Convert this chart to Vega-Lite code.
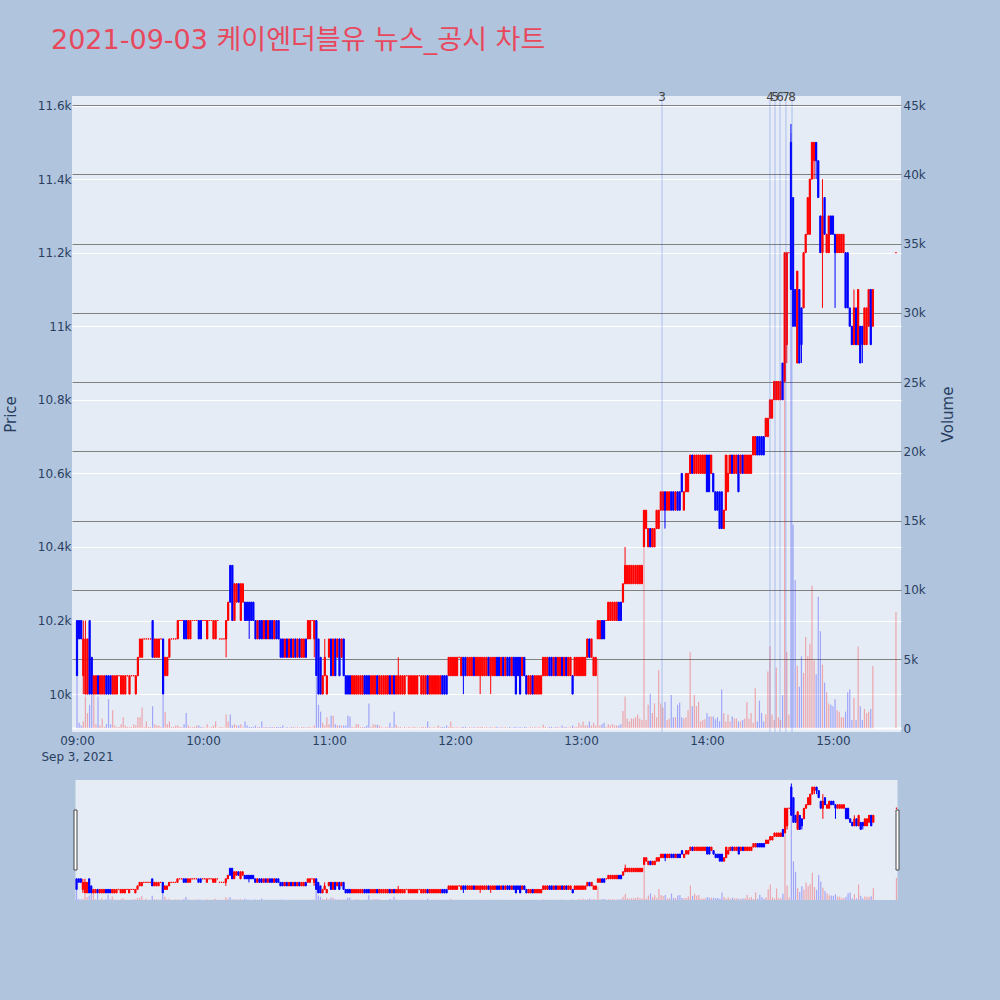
{
"$schema":"https://vega.github.io/schema/vega-lite/v6.json",
"background":"#b0c4de",
"padding":{"left":3,"top":27,"right":50,"bottom":132},
"title":{"text":"2021-09-03 케이엔더블유 뉴스_공시 차트","anchor":"start","frame":"bounds","font":"DejaVu Sans, Noto Sans CJK KR","fontSize":27,"fontWeight":"normal","color":"#e8485c","offset":36,"dx":48},
"config":{"view":{"fill":"#e5ecf6","stroke":null},"font":"DejaVu Sans"},
"data":{"name":"candles","format":{"parse":{"t":"utc:'%H:%M'"}}},
"datasets":{
"news":[{"t":"13:38:36","n":"3"},{"t":"14:30:00","n":"4"},{"t":"14:32:24","n":"5"},{"t":"14:34:48","n":"6"},{"t":"14:37:36","n":"7"},{"t":"14:40:30","n":"8"}],
"handles":[{"t":"08:59:30"},{"t":"15:30:30"}],
"candles":[
{"t":"09:00","o":10200,"h":10200,"l":10050,"c":10050,"v":3800},
{"t":"09:01","o":10200,"h":10200,"l":10150,"c":10150,"v":400},
{"t":"09:02","o":10200,"h":10200,"l":10150,"c":10150,"v":200},
{"t":"09:03","o":10050,"h":10200,"l":10000,"c":10150,"v":500},
{"t":"09:04","o":10000,"h":10200,"l":10000,"c":10150,"v":2300},
{"t":"09:05","o":10000,"h":10150,"l":10000,"c":10150,"v":1100},
{"t":"09:06","o":10200,"h":10200,"l":10000,"c":10000,"v":1700},
{"t":"09:07","o":10100,"h":10100,"l":10000,"c":10000,"v":2400},
{"t":"09:08","o":10000,"h":10050,"l":10000,"c":10050,"v":3500},
{"t":"09:09","o":10000,"h":10050,"l":10000,"c":10050,"v":300},
{"t":"09:10","o":10050,"h":10050,"l":10000,"c":10000,"v":2300},
{"t":"09:11","o":10000,"h":10050,"l":10000,"c":10050,"v":200},
{"t":"09:12","o":10000,"h":10050,"l":10000,"c":10050,"v":700},
{"t":"09:13","o":10000,"h":10050,"l":10000,"c":10050,"v":100},
{"t":"09:14","o":10050,"h":10050,"l":10000,"c":10000,"v":300},
{"t":"09:15","o":10050,"h":10050,"l":10000,"c":10000,"v":2100},
{"t":"09:16","o":10050,"h":10050,"l":10000,"c":10000,"v":300},
{"t":"09:17","o":10000,"h":10050,"l":10000,"c":10050,"v":1300},
{"t":"09:18","o":10000,"h":10050,"l":10000,"c":10050,"v":200},
{"t":"09:19","o":10000,"h":10050,"l":10000,"c":10050,"v":100},
{"t":"09:20","o":10050,"h":10050,"l":10050,"c":10050,"v":100},
{"t":"09:21","o":10000,"h":10050,"l":10000,"c":10050,"v":300},
{"t":"09:22","o":10000,"h":10050,"l":10000,"c":10050,"v":800},
{"t":"09:23","o":10000,"h":10050,"l":10000,"c":10050,"v":200},
{"t":"09:24","o":10050,"h":10050,"l":10050,"c":10050,"v":100},
{"t":"09:25","o":10000,"h":10050,"l":10000,"c":10050,"v":100},
{"t":"09:26","o":10050,"h":10050,"l":10050,"c":10050,"v":100},
{"t":"09:27","o":10050,"h":10050,"l":10050,"c":10050,"v":300},
{"t":"09:28","o":10000,"h":10050,"l":10000,"c":10050,"v":200},
{"t":"09:29","o":10050,"h":10100,"l":10050,"c":10100,"v":800},
{"t":"09:30","o":10100,"h":10150,"l":10100,"c":10150,"v":800},
{"t":"09:31","o":10100,"h":10150,"l":10100,"c":10150,"v":1500},
{"t":"09:32","o":10150,"h":10150,"l":10150,"c":10150,"v":100},
{"t":"09:33","o":10150,"h":10150,"l":10150,"c":10150,"v":500},
{"t":"09:34","o":10150,"h":10150,"l":10150,"c":10150,"v":100},
{"t":"09:35","o":10150,"h":10150,"l":10150,"c":10150,"v":100},
{"t":"09:36","o":10200,"h":10200,"l":10100,"c":10100,"v":1600},
{"t":"09:37","o":10100,"h":10150,"l":10100,"c":10150,"v":300},
{"t":"09:38","o":10100,"h":10150,"l":10100,"c":10150,"v":200},
{"t":"09:39","o":10100,"h":10150,"l":10100,"c":10150,"v":200},
{"t":"09:40","o":10150,"h":10150,"l":10150,"c":10150,"v":100},
{"t":"09:41","o":10150,"h":10150,"l":10000,"c":10000,"v":2400},
{"t":"09:42","o":10050,"h":10100,"l":10050,"c":10100,"v":1200},
{"t":"09:43","o":10050,"h":10100,"l":10050,"c":10100,"v":300},
{"t":"09:44","o":10100,"h":10150,"l":10100,"c":10150,"v":500},
{"t":"09:45","o":10150,"h":10150,"l":10150,"c":10150,"v":100},
{"t":"09:46","o":10150,"h":10150,"l":10150,"c":10150,"v":100},
{"t":"09:47","o":10150,"h":10150,"l":10150,"c":10150,"v":200},
{"t":"09:48","o":10150,"h":10200,"l":10150,"c":10200,"v":200},
{"t":"09:49","o":10200,"h":10200,"l":10200,"c":10200,"v":100},
{"t":"09:50","o":10200,"h":10200,"l":10200,"c":10200,"v":100},
{"t":"09:51","o":10200,"h":10200,"l":10150,"c":10150,"v":300},
{"t":"09:52","o":10200,"h":10200,"l":10150,"c":10150,"v":1100},
{"t":"09:53","o":10150,"h":10200,"l":10150,"c":10200,"v":200},
{"t":"09:54","o":10150,"h":10200,"l":10150,"c":10200,"v":100},
{"t":"09:55","o":10200,"h":10200,"l":10200,"c":10200,"v":100},
{"t":"09:56","o":10200,"h":10200,"l":10200,"c":10200,"v":100},
{"t":"09:57","o":10200,"h":10200,"l":10200,"c":10200,"v":200},
{"t":"09:58","o":10200,"h":10200,"l":10150,"c":10150,"v":200},
{"t":"09:59","o":10200,"h":10200,"l":10150,"c":10150,"v":100},
{"t":"10:00","o":10200,"h":10200,"l":10200,"c":10200,"v":100},
{"t":"10:01","o":10200,"h":10200,"l":10200,"c":10200,"v":50},
{"t":"10:02","o":10150,"h":10200,"l":10150,"c":10200,"v":300},
{"t":"10:03","o":10200,"h":10200,"l":10200,"c":10200,"v":50},
{"t":"10:04","o":10200,"h":10200,"l":10200,"c":10200,"v":100},
{"t":"10:05","o":10150,"h":10200,"l":10150,"c":10200,"v":200},
{"t":"10:06","o":10150,"h":10200,"l":10150,"c":10200,"v":500},
{"t":"10:07","o":10200,"h":10200,"l":10200,"c":10200,"v":50},
{"t":"10:08","o":10150,"h":10150,"l":10150,"c":10150,"v":100},
{"t":"10:09","o":10150,"h":10150,"l":10150,"c":10150,"v":100},
{"t":"10:10","o":10150,"h":10150,"l":10150,"c":10150,"v":50},
{"t":"10:11","o":10150,"h":10200,"l":10100,"c":10200,"v":1000},
{"t":"10:12","o":10200,"h":10250,"l":10200,"c":10250,"v":500},
{"t":"10:13","o":10350,"h":10350,"l":10250,"c":10250,"v":1000},
{"t":"10:14","o":10350,"h":10350,"l":10200,"c":10200,"v":200},
{"t":"10:15","o":10200,"h":10300,"l":10200,"c":10300,"v":300},
{"t":"10:16","o":10250,"h":10300,"l":10250,"c":10300,"v":200},
{"t":"10:17","o":10300,"h":10300,"l":10250,"c":10250,"v":200},
{"t":"10:18","o":10200,"h":10300,"l":10200,"c":10300,"v":300},
{"t":"10:19","o":10250,"h":10300,"l":10250,"c":10300,"v":100},
{"t":"10:20","o":10250,"h":10250,"l":10200,"c":10200,"v":500},
{"t":"10:21","o":10250,"h":10250,"l":10200,"c":10200,"v":200},
{"t":"10:22","o":10250,"h":10250,"l":10150,"c":10200,"v":100},
{"t":"10:23","o":10250,"h":10250,"l":10200,"c":10200,"v":100},
{"t":"10:24","o":10250,"h":10250,"l":10200,"c":10200,"v":100},
{"t":"10:25","o":10200,"h":10200,"l":10150,"c":10150,"v":200},
{"t":"10:26","o":10150,"h":10200,"l":10150,"c":10200,"v":100},
{"t":"10:27","o":10200,"h":10200,"l":10150,"c":10150,"v":100},
{"t":"10:28","o":10200,"h":10200,"l":10150,"c":10150,"v":500},
{"t":"10:29","o":10150,"h":10200,"l":10150,"c":10200,"v":100},
{"t":"10:30","o":10200,"h":10200,"l":10150,"c":10150,"v":100},
{"t":"10:31","o":10150,"h":10200,"l":10150,"c":10200,"v":100},
{"t":"10:32","o":10200,"h":10200,"l":10150,"c":10150,"v":100},
{"t":"10:33","o":10200,"h":10200,"l":10150,"c":10150,"v":100},
{"t":"10:34","o":10150,"h":10200,"l":10150,"c":10200,"v":100},
{"t":"10:35","o":10200,"h":10200,"l":10150,"c":10150,"v":100},
{"t":"10:36","o":10200,"h":10200,"l":10150,"c":10150,"v":100},
{"t":"10:37","o":10150,"h":10150,"l":10100,"c":10100,"v":100},
{"t":"10:38","o":10150,"h":10150,"l":10100,"c":10100,"v":200},
{"t":"10:39","o":10100,"h":10150,"l":10100,"c":10150,"v":50},
{"t":"10:40","o":10150,"h":10150,"l":10100,"c":10100,"v":100},
{"t":"10:41","o":10100,"h":10150,"l":10100,"c":10150,"v":50},
{"t":"10:42","o":10150,"h":10150,"l":10100,"c":10100,"v":100},
{"t":"10:43","o":10100,"h":10150,"l":10100,"c":10150,"v":100},
{"t":"10:44","o":10150,"h":10150,"l":10100,"c":10100,"v":50},
{"t":"10:45","o":10100,"h":10150,"l":10100,"c":10150,"v":100},
{"t":"10:46","o":10150,"h":10150,"l":10100,"c":10100,"v":50},
{"t":"10:47","o":10100,"h":10150,"l":10100,"c":10150,"v":100},
{"t":"10:48","o":10100,"h":10150,"l":10100,"c":10150,"v":100},
{"t":"10:49","o":10150,"h":10150,"l":10100,"c":10100,"v":50},
{"t":"10:50","o":10150,"h":10200,"l":10150,"c":10200,"v":100},
{"t":"10:51","o":10150,"h":10200,"l":10150,"c":10200,"v":100},
{"t":"10:52","o":10200,"h":10200,"l":10200,"c":10200,"v":50},
{"t":"10:53","o":10150,"h":10200,"l":10100,"c":10200,"v":200},
{"t":"10:54","o":10200,"h":10200,"l":10050,"c":10050,"v":3700},
{"t":"10:55","o":10150,"h":10150,"l":10000,"c":10000,"v":1700},
{"t":"10:56","o":10100,"h":10100,"l":10000,"c":10000,"v":1200},
{"t":"10:57","o":10000,"h":10050,"l":10000,"c":10050,"v":400},
{"t":"10:58","o":10050,"h":10150,"l":10050,"c":10100,"v":200},
{"t":"10:59","o":10000,"h":10050,"l":10000,"c":10050,"v":800},
{"t":"11:00","o":10100,"h":10150,"l":10100,"c":10150,"v":300},
{"t":"11:01","o":10150,"h":10150,"l":10050,"c":10050,"v":900},
{"t":"11:02","o":10050,"h":10150,"l":10050,"c":10150,"v":900},
{"t":"11:03","o":10150,"h":10150,"l":10050,"c":10050,"v":300},
{"t":"11:04","o":10100,"h":10150,"l":10100,"c":10150,"v":200},
{"t":"11:05","o":10150,"h":10150,"l":10050,"c":10050,"v":200},
{"t":"11:06","o":10100,"h":10150,"l":10100,"c":10150,"v":200},
{"t":"11:07","o":10150,"h":10150,"l":10050,"c":10050,"v":200},
{"t":"11:08","o":10050,"h":10050,"l":10000,"c":10000,"v":200},
{"t":"11:09","o":10050,"h":10050,"l":10000,"c":10000,"v":900},
{"t":"11:10","o":10050,"h":10050,"l":10000,"c":10000,"v":850},
{"t":"11:11","o":10000,"h":10050,"l":10000,"c":10050,"v":100},
{"t":"11:12","o":10000,"h":10050,"l":10000,"c":10050,"v":100},
{"t":"11:13","o":10000,"h":10050,"l":10000,"c":10050,"v":300},
{"t":"11:14","o":10000,"h":10050,"l":10000,"c":10050,"v":300},
{"t":"11:15","o":10000,"h":10050,"l":10000,"c":10050,"v":100},
{"t":"11:16","o":10000,"h":10050,"l":10000,"c":10050,"v":100},
{"t":"11:17","o":10050,"h":10050,"l":10000,"c":10000,"v":100},
{"t":"11:18","o":10050,"h":10050,"l":10000,"c":10000,"v":200},
{"t":"11:19","o":10050,"h":10050,"l":10000,"c":10000,"v":1800},
{"t":"11:20","o":10000,"h":10050,"l":10000,"c":10050,"v":100},
{"t":"11:21","o":10000,"h":10050,"l":10000,"c":10050,"v":300},
{"t":"11:22","o":10000,"h":10050,"l":10000,"c":10050,"v":250},
{"t":"11:23","o":10050,"h":10050,"l":10000,"c":10000,"v":250},
{"t":"11:24","o":10000,"h":10050,"l":10000,"c":10050,"v":200},
{"t":"11:25","o":10000,"h":10050,"l":10000,"c":10050,"v":100},
{"t":"11:26","o":10000,"h":10050,"l":10000,"c":10050,"v":50},
{"t":"11:27","o":10000,"h":10050,"l":10000,"c":10050,"v":100},
{"t":"11:28","o":10000,"h":10050,"l":10000,"c":10050,"v":100},
{"t":"11:29","o":10050,"h":10050,"l":10000,"c":10000,"v":400},
{"t":"11:30","o":10000,"h":10050,"l":10000,"c":10050,"v":100},
{"t":"11:31","o":10050,"h":10050,"l":10000,"c":10000,"v":1200},
{"t":"11:32","o":10000,"h":10050,"l":10000,"c":10050,"v":250},
{"t":"11:33","o":10000,"h":10100,"l":10000,"c":10050,"v":100},
{"t":"11:34","o":10000,"h":10050,"l":10000,"c":10050,"v":100},
{"t":"11:35","o":10000,"h":10050,"l":10000,"c":10050,"v":50},
{"t":"11:36","o":10000,"h":10050,"l":10000,"c":10050,"v":100},
{"t":"11:37","o":10050,"h":10050,"l":10050,"c":10050,"v":50},
{"t":"11:38","o":10000,"h":10050,"l":10000,"c":10050,"v":100},
{"t":"11:39","o":10000,"h":10050,"l":10000,"c":10050,"v":50},
{"t":"11:40","o":10000,"h":10050,"l":10000,"c":10050,"v":100},
{"t":"11:41","o":10000,"h":10050,"l":10000,"c":10050,"v":100},
{"t":"11:42","o":10000,"h":10050,"l":10000,"c":10050,"v":50},
{"t":"11:43","o":10050,"h":10050,"l":10050,"c":10050,"v":50},
{"t":"11:44","o":10000,"h":10050,"l":10000,"c":10050,"v":100},
{"t":"11:45","o":10000,"h":10050,"l":10000,"c":10050,"v":100},
{"t":"11:46","o":10000,"h":10050,"l":10000,"c":10050,"v":100},
{"t":"11:47","o":10050,"h":10050,"l":10000,"c":10000,"v":500},
{"t":"11:48","o":10000,"h":10050,"l":10000,"c":10050,"v":100},
{"t":"11:49","o":10000,"h":10050,"l":10000,"c":10050,"v":50},
{"t":"11:50","o":10000,"h":10050,"l":10000,"c":10050,"v":100},
{"t":"11:51","o":10000,"h":10050,"l":10000,"c":10050,"v":50},
{"t":"11:52","o":10000,"h":10050,"l":10000,"c":10050,"v":200},
{"t":"11:53","o":10000,"h":10050,"l":10000,"c":10050,"v":100},
{"t":"11:54","o":10050,"h":10050,"l":10000,"c":10000,"v":100},
{"t":"11:55","o":10050,"h":10050,"l":10000,"c":10000,"v":100},
{"t":"11:56","o":10050,"h":10050,"l":10000,"c":10000,"v":200},
{"t":"11:57","o":10050,"h":10100,"l":10050,"c":10100,"v":100},
{"t":"11:58","o":10050,"h":10100,"l":10050,"c":10100,"v":500},
{"t":"11:59","o":10050,"h":10100,"l":10050,"c":10100,"v":100},
{"t":"12:00","o":10050,"h":10100,"l":10050,"c":10100,"v":50},
{"t":"12:01","o":10050,"h":10100,"l":10050,"c":10100,"v":100},
{"t":"12:02","o":10100,"h":10100,"l":10100,"c":10100,"v":50},
{"t":"12:03","o":10050,"h":10100,"l":10050,"c":10100,"v":100},
{"t":"12:04","o":10100,"h":10100,"l":10000,"c":10050,"v":100},
{"t":"12:05","o":10100,"h":10100,"l":10050,"c":10050,"v":100},
{"t":"12:06","o":10050,"h":10100,"l":10050,"c":10100,"v":50},
{"t":"12:07","o":10050,"h":10100,"l":10050,"c":10100,"v":100},
{"t":"12:08","o":10050,"h":10100,"l":10050,"c":10100,"v":50},
{"t":"12:09","o":10100,"h":10100,"l":10050,"c":10050,"v":100},
{"t":"12:10","o":10050,"h":10100,"l":10050,"c":10100,"v":50},
{"t":"12:11","o":10050,"h":10100,"l":10050,"c":10100,"v":100},
{"t":"12:12","o":10050,"h":10100,"l":10000,"c":10100,"v":100},
{"t":"12:13","o":10050,"h":10100,"l":10050,"c":10100,"v":100},
{"t":"12:14","o":10050,"h":10100,"l":10050,"c":10100,"v":50},
{"t":"12:15","o":10050,"h":10100,"l":10050,"c":10100,"v":100},
{"t":"12:16","o":10100,"h":10100,"l":10050,"c":10050,"v":50},
{"t":"12:17","o":10050,"h":10100,"l":10000,"c":10100,"v":100},
{"t":"12:18","o":10050,"h":10100,"l":10050,"c":10100,"v":50},
{"t":"12:19","o":10050,"h":10100,"l":10050,"c":10100,"v":100},
{"t":"12:20","o":10100,"h":10100,"l":10050,"c":10050,"v":100},
{"t":"12:21","o":10100,"h":10100,"l":10050,"c":10050,"v":50},
{"t":"12:22","o":10050,"h":10100,"l":10050,"c":10100,"v":100},
{"t":"12:23","o":10100,"h":10100,"l":10050,"c":10050,"v":50},
{"t":"12:24","o":10050,"h":10100,"l":10050,"c":10100,"v":100},
{"t":"12:25","o":10100,"h":10100,"l":10050,"c":10050,"v":50},
{"t":"12:26","o":10100,"h":10100,"l":10050,"c":10050,"v":100},
{"t":"12:27","o":10050,"h":10100,"l":10050,"c":10100,"v":50},
{"t":"12:28","o":10100,"h":10100,"l":10050,"c":10050,"v":100},
{"t":"12:29","o":10100,"h":10100,"l":10000,"c":10000,"v":100},
{"t":"12:30","o":10100,"h":10100,"l":10050,"c":10050,"v":50},
{"t":"12:31","o":10100,"h":10100,"l":10000,"c":10000,"v":100},
{"t":"12:32","o":10050,"h":10100,"l":10050,"c":10100,"v":50},
{"t":"12:33","o":10100,"h":10100,"l":10050,"c":10050,"v":100},
{"t":"12:34","o":10050,"h":10050,"l":10000,"c":10000,"v":100},
{"t":"12:35","o":10000,"h":10050,"l":10000,"c":10050,"v":50},
{"t":"12:36","o":10000,"h":10050,"l":10000,"c":10050,"v":100},
{"t":"12:37","o":10050,"h":10050,"l":10000,"c":10000,"v":50},
{"t":"12:38","o":10000,"h":10050,"l":10000,"c":10050,"v":100},
{"t":"12:39","o":10000,"h":10050,"l":10000,"c":10050,"v":50},
{"t":"12:40","o":10000,"h":10050,"l":10000,"c":10050,"v":100},
{"t":"12:41","o":10000,"h":10050,"l":10000,"c":10050,"v":50},
{"t":"12:42","o":10050,"h":10100,"l":10050,"c":10100,"v":250},
{"t":"12:43","o":10050,"h":10100,"l":10050,"c":10100,"v":100},
{"t":"12:44","o":10050,"h":10100,"l":10050,"c":10100,"v":50},
{"t":"12:45","o":10100,"h":10100,"l":10050,"c":10050,"v":100},
{"t":"12:46","o":10100,"h":10100,"l":10050,"c":10050,"v":100},
{"t":"12:47","o":10050,"h":10100,"l":10050,"c":10100,"v":50},
{"t":"12:48","o":10100,"h":10100,"l":10050,"c":10050,"v":100},
{"t":"12:49","o":10050,"h":10100,"l":10050,"c":10100,"v":100},
{"t":"12:50","o":10050,"h":10100,"l":10050,"c":10100,"v":50},
{"t":"12:51","o":10100,"h":10100,"l":10050,"c":10050,"v":200},
{"t":"12:52","o":10050,"h":10100,"l":10050,"c":10100,"v":100},
{"t":"12:53","o":10100,"h":10100,"l":10050,"c":10050,"v":100},
{"t":"12:54","o":10050,"h":10100,"l":10050,"c":10100,"v":50},
{"t":"12:55","o":10050,"h":10100,"l":10050,"c":10100,"v":100},
{"t":"12:56","o":10050,"h":10050,"l":10000,"c":10000,"v":200},
{"t":"12:57","o":10050,"h":10100,"l":10050,"c":10100,"v":100},
{"t":"12:58","o":10050,"h":10100,"l":10050,"c":10100,"v":100},
{"t":"12:59","o":10050,"h":10100,"l":10050,"c":10100,"v":400},
{"t":"13:00","o":10050,"h":10100,"l":10050,"c":10100,"v":200},
{"t":"13:01","o":10050,"h":10100,"l":10050,"c":10100,"v":500},
{"t":"13:02","o":10050,"h":10100,"l":10050,"c":10100,"v":200},
{"t":"13:03","o":10100,"h":10150,"l":10100,"c":10150,"v":200},
{"t":"13:04","o":10150,"h":10150,"l":10100,"c":10100,"v":500},
{"t":"13:05","o":10100,"h":10150,"l":10100,"c":10150,"v":200},
{"t":"13:06","o":10050,"h":10100,"l":10050,"c":10100,"v":400},
{"t":"13:07","o":10050,"h":10100,"l":10050,"c":10100,"v":200},
{"t":"13:08","o":10150,"h":10200,"l":10150,"c":10200,"v":5000},
{"t":"13:09","o":10150,"h":10200,"l":10150,"c":10200,"v":200},
{"t":"13:10","o":10200,"h":10200,"l":10150,"c":10150,"v":300},
{"t":"13:11","o":10200,"h":10200,"l":10150,"c":10150,"v":400},
{"t":"13:12","o":10200,"h":10200,"l":10200,"c":10200,"v":100},
{"t":"13:13","o":10200,"h":10250,"l":10200,"c":10250,"v":300},
{"t":"13:14","o":10200,"h":10250,"l":10200,"c":10250,"v":200},
{"t":"13:15","o":10200,"h":10250,"l":10200,"c":10250,"v":300},
{"t":"13:16","o":10200,"h":10250,"l":10200,"c":10250,"v":200},
{"t":"13:17","o":10200,"h":10250,"l":10200,"c":10250,"v":200},
{"t":"13:18","o":10250,"h":10250,"l":10200,"c":10200,"v":200},
{"t":"13:19","o":10250,"h":10250,"l":10200,"c":10200,"v":300},
{"t":"13:20","o":10250,"h":10300,"l":10250,"c":10300,"v":1250},
{"t":"13:21","o":10300,"h":10400,"l":10300,"c":10350,"v":2300},
{"t":"13:22","o":10300,"h":10350,"l":10300,"c":10350,"v":700},
{"t":"13:23","o":10300,"h":10350,"l":10300,"c":10350,"v":500},
{"t":"13:24","o":10300,"h":10350,"l":10300,"c":10350,"v":700},
{"t":"13:25","o":10300,"h":10350,"l":10300,"c":10350,"v":700},
{"t":"13:26","o":10300,"h":10350,"l":10300,"c":10350,"v":800},
{"t":"13:27","o":10300,"h":10350,"l":10300,"c":10350,"v":1000},
{"t":"13:28","o":10300,"h":10350,"l":10300,"c":10350,"v":700},
{"t":"13:29","o":10300,"h":10350,"l":10300,"c":10350,"v":600},
{"t":"13:30","o":10400,"h":10500,"l":10400,"c":10500,"v":13000},
{"t":"13:31","o":10450,"h":10500,"l":10450,"c":10500,"v":600},
{"t":"13:32","o":10400,"h":10450,"l":10400,"c":10450,"v":1700},
{"t":"13:33","o":10450,"h":10450,"l":10400,"c":10400,"v":2500},
{"t":"13:34","o":10400,"h":10450,"l":10400,"c":10450,"v":1100},
{"t":"13:35","o":10400,"h":10450,"l":10400,"c":10450,"v":1800},
{"t":"13:36","o":10450,"h":10500,"l":10450,"c":10500,"v":800},
{"t":"13:37","o":10450,"h":10500,"l":10450,"c":10500,"v":4200},
{"t":"13:38","o":10500,"h":10550,"l":10500,"c":10550,"v":1800},
{"t":"13:39","o":10500,"h":10550,"l":10500,"c":10550,"v":1500},
{"t":"13:40","o":10550,"h":10550,"l":10450,"c":10500,"v":1900},
{"t":"13:41","o":10500,"h":10550,"l":10500,"c":10550,"v":600},
{"t":"13:42","o":10500,"h":10550,"l":10500,"c":10550,"v":700},
{"t":"13:43","o":10550,"h":10550,"l":10500,"c":10500,"v":2400},
{"t":"13:44","o":10550,"h":10550,"l":10500,"c":10500,"v":800},
{"t":"13:45","o":10500,"h":10550,"l":10500,"c":10550,"v":800},
{"t":"13:46","o":10550,"h":10550,"l":10500,"c":10500,"v":1700},
{"t":"13:47","o":10550,"h":10550,"l":10500,"c":10500,"v":1850},
{"t":"13:48","o":10600,"h":10600,"l":10550,"c":10550,"v":800},
{"t":"13:49","o":10500,"h":10550,"l":10500,"c":10550,"v":700},
{"t":"13:50","o":10550,"h":10600,"l":10550,"c":10600,"v":800},
{"t":"13:51","o":10550,"h":10600,"l":10550,"c":10600,"v":1300},
{"t":"13:52","o":10600,"h":10650,"l":10600,"c":10650,"v":5500},
{"t":"13:53","o":10650,"h":10650,"l":10600,"c":10600,"v":1600},
{"t":"13:54","o":10600,"h":10650,"l":10600,"c":10650,"v":2400},
{"t":"13:55","o":10600,"h":10650,"l":10600,"c":10650,"v":1600},
{"t":"13:56","o":10600,"h":10650,"l":10600,"c":10650,"v":1900},
{"t":"13:57","o":10600,"h":10650,"l":10600,"c":10650,"v":500},
{"t":"13:58","o":10600,"h":10650,"l":10600,"c":10650,"v":600},
{"t":"13:59","o":10600,"h":10650,"l":10600,"c":10650,"v":650},
{"t":"14:00","o":10650,"h":10650,"l":10550,"c":10550,"v":1100},
{"t":"14:01","o":10650,"h":10650,"l":10550,"c":10550,"v":850},
{"t":"14:02","o":10600,"h":10650,"l":10600,"c":10650,"v":850},
{"t":"14:03","o":10600,"h":10600,"l":10550,"c":10550,"v":850},
{"t":"14:04","o":10550,"h":10550,"l":10500,"c":10500,"v":650},
{"t":"14:05","o":10550,"h":10550,"l":10500,"c":10500,"v":800},
{"t":"14:06","o":10550,"h":10550,"l":10450,"c":10450,"v":500},
{"t":"14:07","o":10550,"h":10550,"l":10450,"c":10450,"v":2800},
{"t":"14:08","o":10450,"h":10500,"l":10450,"c":10500,"v":1100},
{"t":"14:09","o":10500,"h":10650,"l":10500,"c":10650,"v":500},
{"t":"14:10","o":10550,"h":10650,"l":10550,"c":10600,"v":1000},
{"t":"14:11","o":10600,"h":10650,"l":10600,"c":10650,"v":500},
{"t":"14:12","o":10650,"h":10650,"l":10600,"c":10600,"v":850},
{"t":"14:13","o":10600,"h":10650,"l":10600,"c":10650,"v":700},
{"t":"14:14","o":10600,"h":10650,"l":10600,"c":10650,"v":700},
{"t":"14:15","o":10650,"h":10650,"l":10550,"c":10550,"v":500},
{"t":"14:16","o":10600,"h":10650,"l":10600,"c":10650,"v":500},
{"t":"14:17","o":10650,"h":10650,"l":10600,"c":10600,"v":600},
{"t":"14:18","o":10600,"h":10650,"l":10600,"c":10650,"v":700},
{"t":"14:19","o":10600,"h":10650,"l":10600,"c":10650,"v":1900},
{"t":"14:20","o":10600,"h":10650,"l":10600,"c":10650,"v":700},
{"t":"14:21","o":10600,"h":10650,"l":10600,"c":10650,"v":1100},
{"t":"14:22","o":10650,"h":10700,"l":10650,"c":10700,"v":400},
{"t":"14:23","o":10650,"h":10700,"l":10650,"c":10700,"v":2900},
{"t":"14:24","o":10700,"h":10700,"l":10650,"c":10650,"v":500},
{"t":"14:25","o":10700,"h":10700,"l":10650,"c":10650,"v":2000},
{"t":"14:26","o":10700,"h":10700,"l":10650,"c":10650,"v":1100},
{"t":"14:27","o":10700,"h":10700,"l":10650,"c":10650,"v":500},
{"t":"14:28","o":10700,"h":10750,"l":10700,"c":10750,"v":1000},
{"t":"14:29","o":10700,"h":10750,"l":10700,"c":10750,"v":4100},
{"t":"14:30","o":10750,"h":10800,"l":10750,"c":10800,"v":5900},
{"t":"14:31","o":10750,"h":10800,"l":10750,"c":10800,"v":1000},
{"t":"14:32","o":10800,"h":10850,"l":10800,"c":10850,"v":600},
{"t":"14:33","o":10800,"h":10850,"l":10800,"c":10850,"v":4400},
{"t":"14:34","o":10800,"h":10850,"l":10800,"c":10850,"v":800},
{"t":"14:35","o":10800,"h":10850,"l":10800,"c":10850,"v":600},
{"t":"14:36","o":10900,"h":10900,"l":10800,"c":10800,"v":2400},
{"t":"14:37","o":10850,"h":11200,"l":10850,"c":11200,"v":34000},
{"t":"14:38","o":10950,"h":11200,"l":10900,"c":11200,"v":5500},
{"t":"14:39","o":11200,"h":11200,"l":11200,"c":11200,"v":1000},
{"t":"14:40","o":11500,"h":11550,"l":11100,"c":11100,"v":43000},
{"t":"14:41","o":11350,"h":11350,"l":11000,"c":11000,"v":14700},
{"t":"14:42","o":11100,"h":11100,"l":11000,"c":11000,"v":10700},
{"t":"14:43","o":10900,"h":11150,"l":10900,"c":11150,"v":4500},
{"t":"14:44","o":11100,"h":11100,"l":10900,"c":10900,"v":3000},
{"t":"14:45","o":11050,"h":11050,"l":10900,"c":10950,"v":5200},
{"t":"14:46","o":11050,"h":11200,"l":11050,"c":11200,"v":4000},
{"t":"14:47","o":11200,"h":11250,"l":11200,"c":11250,"v":6600},
{"t":"14:48","o":11250,"h":11350,"l":11250,"c":11350,"v":5200},
{"t":"14:49","o":11250,"h":11400,"l":11250,"c":11400,"v":6100},
{"t":"14:50","o":11400,"h":11500,"l":11400,"c":11500,"v":10300},
{"t":"14:51","o":11450,"h":11500,"l":11400,"c":11500,"v":4900},
{"t":"14:52","o":11500,"h":11500,"l":11400,"c":11450,"v":3900},
{"t":"14:53","o":11450,"h":11450,"l":11350,"c":11350,"v":9500},
{"t":"14:54","o":11300,"h":11300,"l":11200,"c":11200,"v":7000},
{"t":"14:55","o":11200,"h":11400,"l":11050,"c":11300,"v":4600},
{"t":"14:56","o":11350,"h":11350,"l":11250,"c":11250,"v":3300},
{"t":"14:57","o":11200,"h":11250,"l":11200,"c":11250,"v":2600},
{"t":"14:58","o":11200,"h":11300,"l":11200,"c":11300,"v":1800},
{"t":"14:59","o":11300,"h":11300,"l":11250,"c":11250,"v":1700},
{"t":"15:00","o":11300,"h":11300,"l":11250,"c":11250,"v":1600},
{"t":"15:01","o":11250,"h":11250,"l":11050,"c":11200,"v":2100},
{"t":"15:02","o":11200,"h":11250,"l":11200,"c":11250,"v":1300},
{"t":"15:03","o":11200,"h":11250,"l":11200,"c":11250,"v":1200},
{"t":"15:04","o":11200,"h":11250,"l":11200,"c":11250,"v":800},
{"t":"15:05","o":11200,"h":11250,"l":11200,"c":11250,"v":800},
{"t":"15:06","o":11200,"h":11200,"l":11050,"c":11050,"v":1200},
{"t":"15:07","o":11200,"h":11200,"l":11050,"c":11050,"v":2600},
{"t":"15:08","o":11050,"h":11050,"l":11000,"c":11000,"v":2800},
{"t":"15:09","o":11000,"h":11000,"l":10950,"c":10950,"v":600},
{"t":"15:10","o":10950,"h":11100,"l":10950,"c":11050,"v":2200},
{"t":"15:11","o":11050,"h":11050,"l":10950,"c":10950,"v":600},
{"t":"15:12","o":10950,"h":11100,"l":10950,"c":11100,"v":5900},
{"t":"15:13","o":11000,"h":11000,"l":10900,"c":10900,"v":1600},
{"t":"15:14","o":11000,"h":11000,"l":10900,"c":10950,"v":600},
{"t":"15:15","o":10950,"h":11050,"l":10950,"c":11050,"v":1400},
{"t":"15:16","o":10950,"h":11050,"l":10950,"c":11050,"v":1100},
{"t":"15:17","o":11000,"h":11100,"l":11000,"c":11100,"v":1200},
{"t":"15:18","o":11100,"h":11100,"l":10950,"c":10950,"v":1400},
{"t":"15:19","o":11000,"h":11100,"l":11000,"c":11100,"v":4500},
{"t":"15:30","o":11200,"h":11200,"l":11200,"c":11200,"v":8400}
]},
"spacing":48,
"bounds":"flush",
"center":true,
"vconcat":[
{
"width":829,"height":636,
"encoding":{"x":{"field":"t","type":"temporal",
 "scale":{"type":"utc","padding":0,"domain":[{"utc":true,"year":1900,"month":1,"date":1,"hours":8,"minutes":57,"seconds":37},{"utc":true,"year":1900,"month":1,"date":1,"hours":15,"minutes":32,"seconds":24}]},
 "axis":{"title":null,"values":[{"utc":true,"year":1900,"month":1,"date":1,"hours":9},{"utc":true,"year":1900,"month":1,"date":1,"hours":10},{"utc":true,"year":1900,"month":1,"date":1,"hours":11},{"utc":true,"year":1900,"month":1,"date":1,"hours":12},{"utc":true,"year":1900,"month":1,"date":1,"hours":13},{"utc":true,"year":1900,"month":1,"date":1,"hours":14},{"utc":true,"year":1900,"month":1,"date":1,"hours":15}],
 "labelExpr":"utchours(datum.value) == 9 ? ['09:00', 'Sep 3, 2021'] : utcFormat(datum.value, '%H:%M')",
 "ticks":false,"domain":false,"grid":false,"labelFont":"DejaVu Sans","labelFontSize":12,"labelColor":"#2a3f5f","labelPadding":3,"labelLineHeight":16,"labelFlush":false,"labelOverlap":false}}},
"layer":[
 {"layer":[
   {"mark":{"type":"rule","strokeWidth":1},
    "encoding":{"y":{"field":"l","type":"quantitative","scale":{"domain":[9897,11626],"zero":false,"nice":false},
      "axis":{"orient":"left","values":[10000,10200,10400,10600,10800,11000,11200,11400,11600],"format":"~s","grid":true,"gridColor":"white","gridWidth":1,"ticks":false,"domain":false,"labelFont":"DejaVu Sans","labelFontSize":12,"labelColor":"#2a3f5f","labelPadding":1,"title":"Price","titleFont":"DejaVu Sans","titleFontSize":15,"titleColor":"#2a3f5f","titleFontWeight":"normal","titleAngle":-90,"titleX":-62,"titleY":318,"titleAlign":"center","titleBaseline":"middle"}},
     "y2":{"field":"h"},
     "color":{"condition":{"test":"datum.c < datum.o","value":"#0000ff"},"value":"#ff0000"}}},
   {"mark":{"type":"bar","size":1.2,"strokeWidth":1},
    "encoding":{"y":{"field":"o","type":"quantitative"},"y2":{"field":"c"},
     "fill":{"condition":{"test":"datum.c < datum.o","value":"#0000ff"},"value":"#ff0000"},
     "stroke":{"condition":{"test":"datum.c < datum.o","value":"#0000ff"},"value":"#ff0000"}}}
  ]},
 {"mark":{"type":"bar","size":1.2,"opacity":0.3},
  "encoding":{"y":{"field":"v","type":"quantitative","scale":{"domain":[-267,45664],"nice":false,"zero":false},
    "axis":{"orient":"right","values":[0,5000,10000,15000,20000,25000,30000,35000,40000,45000],"labelExpr":"datum.value === 0 ? '0' : format(datum.value, '~s')","grid":true,
     "gridColor":{"condition":{"test":"datum.value === 0","value":"white"},"value":"grey"},
     "gridWidth":{"condition":{"test":"datum.value === 0","value":2},"value":1},
     "ticks":false,"domain":false,"labelFont":"DejaVu Sans","labelFontSize":12,"labelColor":"#2a3f5f","labelPadding":2,"title":"Volume","titleFont":"DejaVu Sans","titleFontSize":15,"titleColor":"#2a3f5f","titleFontWeight":"normal","titleAngle":-90,"titleX":46,"titleY":318,"titleAlign":"center","titleBaseline":"middle"}},
   "color":{"condition":{"test":"datum.c < datum.o","value":"#0000ff"},"value":"#ff0000"}}},
 {"data":{"name":"news","format":{"parse":{"t":"utc:'%H:%M:%S'"}}},
  "layer":[
   {"mark":{"type":"rule","color":"#4169e1","opacity":0.35,"strokeWidth":1},"encoding":{}},
   {"mark":{"type":"text","baseline":"middle","dy":1,"fontSize":12,"font":"DejaVu Sans","color":"#444444"},
    "encoding":{"y":{"value":0},"text":{"field":"n"}}}
  ]}
],
"resolve":{"scale":{"y":"independent"},"axis":{"y":"independent"}}
},
{
"width":822,"height":120,
"encoding":{"x":{"field":"t","type":"temporal",
 "scale":{"type":"utc","padding":0,"domain":[{"utc":true,"year":1900,"month":1,"date":1,"hours":8,"minutes":59,"seconds":30},{"utc":true,"year":1900,"month":1,"date":1,"hours":15,"minutes":30,"seconds":30}]},
 "axis":null}},
"layer":[
 {"layer":[
   {"mark":{"type":"rule","strokeWidth":1},
    "encoding":{"y":{"field":"l","type":"quantitative","scale":{"domain":[9900,11600],"zero":false,"nice":false},"axis":null},
     "y2":{"field":"h"},
     "color":{"condition":{"test":"datum.c < datum.o","value":"#0000ff"},"value":"#ff0000"}}},
   {"mark":{"type":"bar","size":1.2,"strokeWidth":1},
    "encoding":{"y":{"field":"o","type":"quantitative"},"y2":{"field":"c"},
     "fill":{"condition":{"test":"datum.c < datum.o","value":"#0000ff"},"value":"#ff0000"},
     "stroke":{"condition":{"test":"datum.c < datum.o","value":"#0000ff"},"value":"#ff0000"}}}
  ]},
 {"mark":{"type":"bar","size":1.2,"opacity":0.3},
  "encoding":{"y":{"field":"v","type":"quantitative","scale":{"domain":[0,45500],"nice":false},"axis":null},
   "color":{"condition":{"test":"datum.c < datum.o","value":"#0000ff"},"value":"#ff0000"}}},
 {"data":{"name":"handles","format":{"parse":{"t":"utc:'%H:%M:%S'"}}},
  "mark":{"type":"tick","thickness":3,"size":60,"fill":"white","stroke":"#444444","strokeWidth":1,"opacity":1},
  "encoding":{}}
],
"resolve":{"scale":{"y":"independent"}}
}
]
}
